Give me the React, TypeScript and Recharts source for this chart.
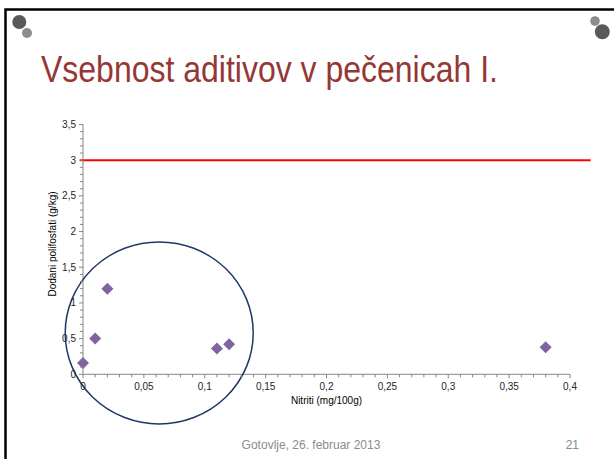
import React from 'react';
import { ScatterChart, Scatter, XAxis, YAxis, ReferenceLine, ReferenceDot, Label } from 'recharts';

// ---- data ----
const nitrites = [0, 0.01, 0.02, 0.11, 0.12, 0.38]; // mg/100g
const polyphosphates = [0.16, 0.5, 1.2, 0.36, 0.42, 0.38]; // g/kg
const limitValue = 3;
const xMajorTickLabels = ['0', '0,05', '0,1', '0,15', '0,2', '0,25', '0,3', '0,35', '0,4'];
const yMajorTickLabels = ['0', '0,5', '1', '1,5', '2', '2,5', '3', '3,5'];
const circleCenter = { x: 0.0626, y: 0.58 };
const limitSegment = [-0.0025, 0.417];

const title = 'Vsebnost aditivov v pečenicah I.';
const xTitle = 'Nitriti (mg/100g)';
const yTitle = 'Dodani polifosfati (g/kg)';
const footer = 'Gotovlje, 26. februar 2013';
const pageNo = '21';

const data = nitrites.map((x, i) => ({ x, y: polyphosphates[i] }));
const xTicks = Array.from({ length: 41 }, (_, i) => i / 100);
const yTicks = Array.from({ length: 36 }, (_, i) => i / 10);

const FONT = '"Liberation Sans", Arial, sans-serif';
const AXIS = '#868686';

const XTick = (props: any) => {
  const { x, y, payload } = props;
  const idx = Math.round(payload.value * 100);
  const major = idx % 5 === 0;
  return (
    <g>
      <line x1={x} x2={x} y1={y} y2={y + (major ? 4 : 3)} stroke={AXIS} strokeWidth={1} />
      {major && (
        <text x={x} y={y + 16} textAnchor="middle" fontSize={10} fontFamily={FONT} fill="#262626">
          {xMajorTickLabels[idx / 5]}
        </text>
      )}
    </g>
  );
};

const YTick = (props: any) => {
  const { x, y, payload } = props;
  const idx = Math.round(payload.value * 10);
  const major = idx % 5 === 0;
  return (
    <g>
      <line x1={x} x2={x - (major ? 4 : 3)} y1={y} y2={y} stroke={AXIS} strokeWidth={1} />
      {major && (
        <text x={x - 7} y={y + 3.5} textAnchor="end" fontSize={10} fontFamily={FONT} fill="#262626">
          {yMajorTickLabels[idx / 5]}
        </text>
      )}
    </g>
  );
};

const Diamond = (props: any) => {
  const { cx, cy } = props;
  const h = 6;
  return <polygon points={`${cx},${cy - h} ${cx + h},${cy} ${cx},${cy + h} ${cx - h},${cy}`} fill="#8064A2" />;
};

const Ellipse = (props: any) => (
  <ellipse cx={props.cx} cy={props.cy} rx={94} ry={91} fill="none" stroke="#1F3864" strokeWidth={1.5} />
);

export default function App() {
  return (
    <div style={{ position: 'absolute', left: 0, top: 0, width: 614, height: 459, background: '#fff', overflow: 'hidden' }}>
      <svg width={614} height={459} style={{ position: 'absolute', left: 0, top: 0 }}>
        <rect x={5.5} y={9.5} width={640} height={480} fill="none" stroke="#000" strokeWidth={2.5} />
        <circle cx={19.3} cy={22} r={7} fill="#595959" />
        <circle cx={27} cy={33} r={5} fill="#8C8C8C" />
        <circle cx={595} cy={21} r={4.8} fill="#8C8C8C" />
        <circle cx={602.3} cy={31.7} r={7.5} fill="#595959" />
        <text x={0} y={0} fontSize={32} fontFamily={FONT} fill="#953735" transform="translate(41 82) scale(1 1.15)">{title}</text>
        <text x={311} y={449} textAnchor="middle" fontSize={12} fontFamily={FONT} fill="#8C8C8C">{footer}</text>
        <text x={579} y={449} textAnchor="end" fontSize={12} fontFamily={FONT} fill="#8C8C8C">{pageNo}</text>
      </svg>
      <div style={{ position: 'absolute', left: 0, top: 0 }}>
        <ScatterChart width={614} height={459} margin={{ top: 124.5, right: 44, bottom: 54.7, left: 43 }}>
          <XAxis
            type="number"
            dataKey="x"
            domain={[0, 0.4]}
            ticks={xTicks}
            interval={0}
            height={30}
            tickSize={0}
            tickMargin={0}
            tickLine={false}
            axisLine={{ stroke: AXIS }}
            tick={<XTick />}
          >
            <Label
              content={() => (
                <text x={326.5} y={403.5} textAnchor="middle" fontSize={10} fontFamily={FONT} fill="#000">
                  {xTitle}
                </text>
              )}
            />
          </XAxis>
          <YAxis
            type="number"
            dataKey="y"
            domain={[0, 3.5]}
            ticks={yTicks}
            interval={0}
            width={40}
            tickSize={0}
            tickMargin={0}
            tickLine={false}
            axisLine={{ stroke: AXIS }}
            tick={<YTick />}
          >
            <Label
              content={() => (
                <text
                  x={56}
                  y={244}
                  textAnchor="middle"
                  fontSize={10}
                  fontFamily={FONT}
                  fill="#000"
                  transform="rotate(-90 56 244)"
                >
                  {yTitle}
                </text>
              )}
            />
          </YAxis>
          <ReferenceLine
            segment={[{ x: limitSegment[0], y: limitValue }, { x: limitSegment[1], y: limitValue }]}
            stroke="#FF0000"
            strokeWidth={2}
            ifOverflow="visible"
          />
          <Scatter data={data} shape={<Diamond />} isAnimationActive={false} />
          <ReferenceDot x={circleCenter.x} y={circleCenter.y} r={94} ifOverflow="visible" shape={<Ellipse />} />
        </ScatterChart>
      </div>
    </div>
  );
}
